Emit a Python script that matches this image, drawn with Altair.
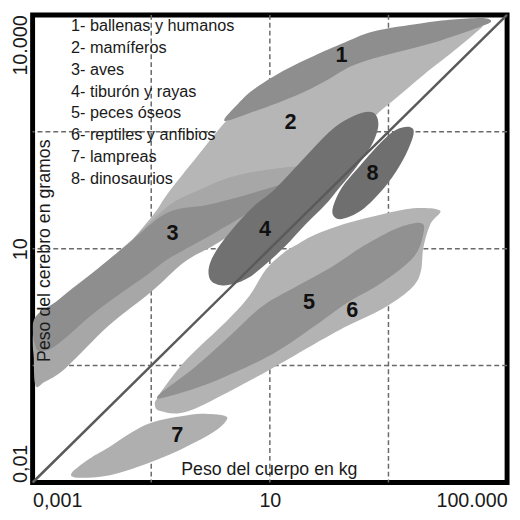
import altair as alt
import pandas as pd

# Outlines of each group as (log10 body mass [kg], log10 brain mass [g])
BLOB1 = [(0.24, 2.64), (0.44, 2.84), (0.72, 3.04), (1.22, 3.28), (1.76, 3.48), (2.21, 3.63),
         (2.76, 3.79), (3.54, 3.89), (4.09, 3.94), (4.59, 3.96), (4.73, 3.92), (4.59, 3.86),
         (3.87, 3.67), (3.09, 3.51), (2.43, 3.36), (1.93, 3.15), (1.48, 2.98), (0.77, 2.77)]
BLOB2 = [(-1.47, 0.94), (-1.39, 1.04), (-0.94, 1.46), (-0.73, 1.70), (-0.23, 2.18), (0.24, 2.62),
         (0.65, 2.93), (1.27, 3.18), (2.10, 3.42), (3.09, 3.62), (3.92, 3.76), (4.42, 3.84),
         (4.59, 3.86), (4.45, 3.76), (4.09, 3.53), (3.59, 3.23), (3.17, 2.96), (2.84, 2.75),
         (2.59, 2.55), (2.18, 2.24), (1.76, 2.02), (1.10, 1.74), (0.27, 1.42), (-0.56, 1.13),
         (-1.22, 0.96)]
BLOB3_OUTER = [(-2.95, -0.76), (-2.98, -0.41), (-2.97, -0.03), (-2.55, 0.35), (-1.89, 0.75),
               (-1.39, 1.07), (-0.73, 1.54), (-0.23, 1.74), (0.39, 1.93), (1.22, 2.04),
               (1.68, 2.05), (1.86, 2.02), (1.68, 1.92), (1.43, 1.74), (0.77, 1.39),
               (0.05, 1.04), (-0.44, 0.83), (-1.01, 0.44), (-1.72, 0.01), (-2.44, -0.53),
               (-2.80, -0.71)]
BLOB3_INNER = [(-2.97, 0.10), (-2.55, 0.35), (-1.89, 0.75), (-1.39, 1.06), (-0.73, 1.46),
               (-0.06, 1.56), (0.60, 1.69), (1.27, 1.84), (1.56, 1.87), (1.27, 1.76),
               (0.77, 1.52), (0.02, 1.18), (-0.69, 0.88), (-1.06, 0.67), (-1.89, 0.22),
               (-2.55, -0.21), (-2.80, -0.31), (-2.95, -0.26)]
BLOB4 = [(2.73, 2.75), (2.83, 2.60), (2.73, 2.35), (2.46, 2.05), (2.18, 1.79), (1.93, 1.56),
         (1.60, 1.31), (1.27, 1.04), (0.93, 0.80), (0.60, 0.61), (0.27, 0.53), (0.02, 0.58),
         (-0.03, 0.75), (0.10, 0.98), (0.39, 1.27), (0.72, 1.54), (1.08, 1.76), (1.60, 2.18),
         (2.05, 2.53), (2.43, 2.71)]
BLOB5 = [(-0.89, -0.89), (-0.28, -0.53), (0.27, -0.16), (0.85, 0.25), (1.43, 0.51), (2.05, 0.77),
         (2.59, 1.04), (3.14, 1.26), (3.54, 1.33), (3.59, 1.20), (3.42, 0.89), (2.88, 0.56),
         (2.31, 0.31), (1.76, 0.01), (1.05, -0.35), (0.10, -0.69), (-0.64, -0.88)]
BLOB6 = [(-0.89, -0.91), (-0.94, -0.99), (-0.86, -1.08), (-0.44, -1.10), (0.27, -0.85),
         (1.05, -0.53), (1.76, -0.22), (2.31, 0.01), (2.88, 0.22), (3.37, 0.48), (3.54, 0.69),
         (3.59, 1.02), (3.71, 1.32), (3.87, 1.49), (3.42, 1.52), (2.88, 1.44), (2.31, 1.33),
         (1.76, 1.18), (1.43, 1.04), (1.22, 0.94), (0.93, 0.73), (0.65, 0.39), (0.27, 0.07),
         (-0.39, -0.41), (-0.81, -0.81)]
BLOB7 = [(-2.35, -1.89), (-2.05, -1.70), (-1.72, -1.55), (-1.06, -1.25), (-0.34, -1.13),
         (-0.01, -1.12), (0.22, -1.14), (0.27, -1.20), (-0.01, -1.38), (-0.78, -1.67),
         (-1.61, -1.89), (-2.17, -1.94)]
BLOB8 = [(3.37, 2.56), (3.42, 2.46), (3.26, 2.16), (2.98, 1.83), (2.59, 1.52), (2.26, 1.39),
         (2.10, 1.40), (2.06, 1.52), (2.21, 1.78), (2.48, 2.03), (2.88, 2.37), (3.14, 2.53)]

# Number labels inside each group (log10 kg, log10 g)
NUM_TEXT = ["1", "2", "3", "4", "5", "6", "7", "8"]
NUM_LOG_BODY = [2.21, 1.35, -0.64, 0.92, 1.66, 2.39, -0.56, 2.73]
NUM_LOG_BRAIN = [3.48, 2.62, 1.20, 1.25, 0.31, 0.21, -1.39, 1.97]

LEGEND = ["1- ballenas y humanos", "2- mamíferos", "3- aves", "4- tiburón y rayas",
          "5- peces óseos", "6- reptiles y anfibios", "7- lampreas", "8- dinosaurios"]

X_TICKS = [0.001, 10, 100000]
X_LABELS = ["0,001", "10", "100.000"]
Y_TICKS = [0.01, 10, 10000]
Y_LABELS = ["0,01", "10", "10.000"]
X_GRID = [0.1, 10, 1000]
Y_GRID = [10 ** -0.5, 10, 10 ** 2.5]
DIAG_BODY = [0.001, 100000]
DIAG_BRAIN = [0.01, 10000]

FONT = "Liberation Sans Narrow, Arial Narrow, Liberation Sans, sans-serif"

xs = alt.Scale(type="log", domain=[0.001, 100000], nice=False)
ys = alt.Scale(type="log", domain=[0.01, 10000], nice=False)


def lbl_expr(ticks, labels):
    t = ",".join(repr(v) for v in ticks)
    l = ",".join("'" + s + "'" for s in labels)
    return f"[{l}][indexof([{t}], datum.value)]"


xaxis = alt.Axis(values=X_TICKS, labelExpr=lbl_expr(X_TICKS, X_LABELS), grid=False, ticks=False,
                 domain=False, labelFlush=True, labelFontSize=20, labelFont=FONT,
                 labelColor="#1a1a1a", labelPadding=8, zindex=1,
                 title="Peso del cuerpo en kg", titleX=240, titleY=-8, titleAlign="center",
                 titleBaseline="alphabetic", titleFontSize=18, titleFontWeight="normal",
                 titleFont=FONT, titleColor="#1a1a1a")
yaxis = alt.Axis(values=Y_TICKS, labelExpr=lbl_expr(Y_TICKS, Y_LABELS), grid=False, ticks=False,
                 domain=False, labelAngle=270, zindex=1,
                 labelAlign={"condition": [{"test": "datum.value < 1", "value": "left"},
                                           {"test": "datum.value > 100", "value": "right"}],
                             "value": "center"},
                 labelBaseline="bottom", labelPadding=2, labelFontSize=20, labelFont=FONT,
                 labelColor="#1a1a1a",
                 title="Peso del cerebro en gramos", titleAngle=270, titleX=17, titleY=239,
                 titleAlign="center", titleBaseline="alphabetic", titleFontSize=18,
                 titleFontWeight="normal", titleFont=FONT, titleColor="#1a1a1a")


def X(f):
    return alt.X(f, type="quantitative", scale=xs, axis=xaxis)


def Y(f):
    return alt.Y(f, type="quantitative", scale=ys, axis=yaxis)


def blob(pts, color):
    df = pd.DataFrame({"body": [10 ** a for a, b in pts],
                       "brain": [10 ** b for a, b in pts],
                       "i": list(range(len(pts)))})
    return alt.Chart(df).mark_line(filled=True, color=color, fill=color, strokeWidth=0,
                                   interpolate="cardinal-closed", clip=True).encode(
        x=X("body"), y=Y("brain"), order=alt.Order("i:Q"))


xgrid = alt.Chart(pd.DataFrame({"body": X_GRID})).mark_rule(
    color="#6a6a6a", strokeWidth=1.5, strokeDash=[5, 3]).encode(x=X("body"))
ygrid = alt.Chart(pd.DataFrame({"brain": Y_GRID})).mark_rule(
    color="#6a6a6a", strokeWidth=1.5, strokeDash=[5, 3]).encode(y=Y("brain"))

diag = alt.Chart(pd.DataFrame({"body": DIAG_BODY, "brain": DIAG_BRAIN})).mark_line(
    color="#5a5a5a", strokeWidth=2.5).encode(x=X("body"), y=Y("brain"))

nums = alt.Chart(pd.DataFrame({"body": [10 ** v for v in NUM_LOG_BODY],
                               "brain": [10 ** v for v in NUM_LOG_BRAIN],
                               "t": NUM_TEXT})).mark_text(
    font=FONT, fontSize=22, fontWeight="bold", color="#111111").encode(
    x=X("body"), y=Y("brain"), text="t:N")

legend = alt.Chart(pd.DataFrame({"t": ["\n".join(LEGEND)]})).mark_text(
    font=FONT, fontSize=16.5, color="#1a1a1a", align="left", baseline="alphabetic",
    lineBreak="\n", lineHeight=22.3).encode(x=alt.value(39), y=alt.value(16), text="t:N")

chart = alt.layer(
    xgrid, ygrid,
    blob(BLOB2, "#b6b6b6"),
    blob(BLOB3_OUTER, "#a7a7a7"),
    blob(BLOB3_INNER, "#8e8e8e"),
    blob(BLOB1, "#8e8e8e"),
    blob(BLOB6, "#b3b3b3"),
    blob(BLOB5, "#919191"),
    blob(BLOB7, "#afafaf"),
    blob(BLOB4, "#717171"),
    blob(BLOB8, "#6f6f6f"),
    diag, nums, legend,
).properties(
    width=482, height=475,
    padding={"left": 25, "top": 3, "right": 5, "bottom": 30},
    autosize=alt.AutoSizeParams(type="none"),
).configure_view(stroke="black", strokeWidth=5)

chart.save("out.html", embed_options={"renderer": "svg", "actions": False})
